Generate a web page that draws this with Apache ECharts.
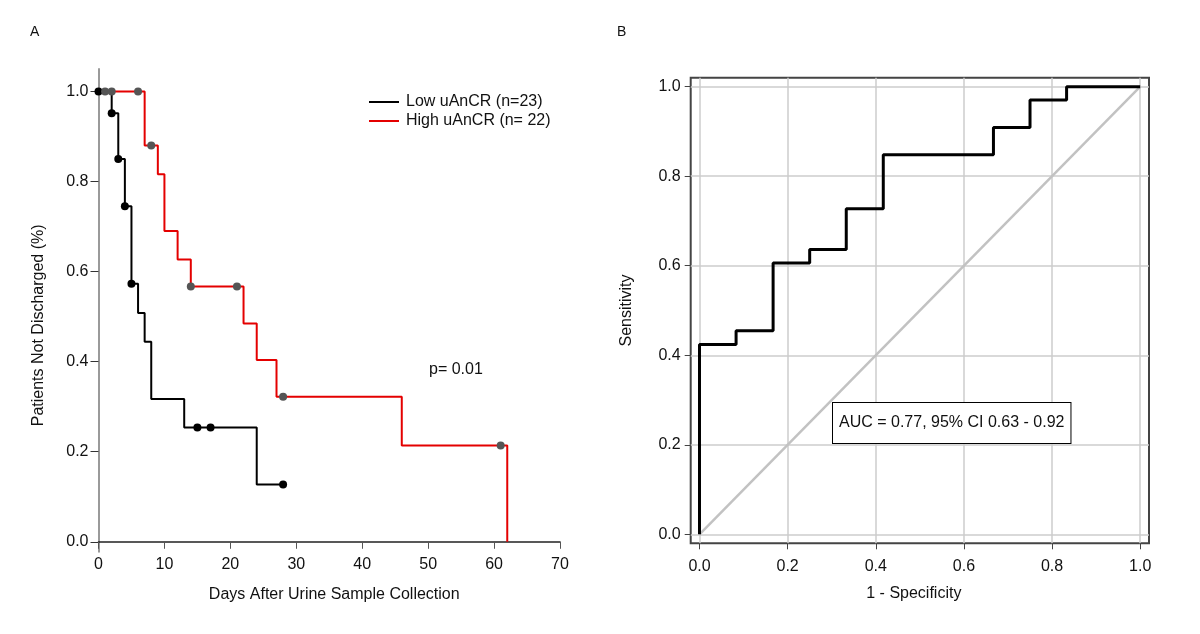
<!DOCTYPE html>
<html>
<head>
<meta charset="utf-8">
<script src="https://cdn.jsdelivr.net/npm/echarts@6/dist/echarts.min.js"></script>
<style>html,body{margin:0;padding:0;background:#fff}#main{width:1200px;height:634px}</style>
</head>
<body>
<div id="main"></div>
<script>
// A: Kaplan-Meier curves (day, fraction not discharged)
var lowDays = [0, 2, 3, 4, 5, 6, 7, 8, 13, 24, 28];
var lowSurv = [1, 0.952, 0.85, 0.745, 0.573, 0.508, 0.444, 0.317, 0.254, 0.127, 0.127];
var lowCensorDays = [0, 2, 3, 4, 5, 15, 17, 28];
var lowCensorSurv = [1, 0.952, 0.85, 0.745, 0.573, 0.254, 0.254, 0.127];

var highDays = [0, 7, 9, 10, 12, 14, 22, 24, 27, 46, 62];
var highSurv = [1, 0.88, 0.816, 0.69, 0.627, 0.567, 0.485, 0.404, 0.322, 0.214, 0];
var highCensorDays = [1, 2, 6, 8, 14, 21, 28, 61];
var highCensorSurv = [1, 1, 1, 0.88, 0.567, 0.567, 0.322, 0.214];

// B: ROC curve corners (1 - specificity, sensitivity)
var rocFpr = [0, 0, 0.083, 0.167, 0.25, 0.333, 0.417, 0.667, 0.75, 0.833, 1];
var rocTpr = [0, 0.424, 0.455, 0.606, 0.636, 0.727, 0.848, 0.909, 0.970, 1, 1];
var diagonal = [0, 1];

var unitTicks = [0, 0.2, 0.4, 0.6, 0.8, 1.0];

var names = ['Low uAnCR (n=23)', 'High uAnCR (n= 22)'];
var FONT = "'Liberation Sans', Arial, sans-serif";

function pairs(xs, ys) {
    return xs.map(function (x, i) { return [x, ys[i]]; });
}
function fmt1(v) { return Number(v).toFixed(1); }

var chart = echarts.init(document.getElementById('main'));
var option = {
    animation: false,
    textStyle: {fontFamily: FONT, color: '#111'},
    legend: {
        data: names,
        orient: 'vertical',
        left: 369,
        top: 94,
        padding: 0,
        icon: 'rect',
        itemWidth: 30,
        itemHeight: 2,
        itemGap: 3,
        textStyle: {fontSize: 16, color: '#111', fontFamily: FONT, padding: [0, 0, 0, 2]}
    },
    grid: [
        {left: 98.5, top: 69, width: 461.5, height: 482.7},
        {left: 690.7, top: 77.7, width: 458.3, height: 465.6, show: true, borderColor: '#444', borderWidth: 2}
    ],
    xAxis: [
        {
            gridIndex: 0, type: 'value', min: 0, max: 70, interval: 10,
            name: 'Days After Urine Sample Collection', nameLocation: 'middle', nameGap: 35,
            nameTextStyle: {fontSize: 16, color: '#111', padding: [0, 0, 0, 10]},
            axisLine: {onZero: true, lineStyle: {color: '#222', width: 1.5}},
            axisTick: {length: 7, lineStyle: {color: '#555'}},
            axisLabel: {fontSize: 16, color: '#111', margin: 5},
            splitLine: {show: false}
        },
        {
            gridIndex: 1, type: 'value', min: -0.02, max: 1.02,
            name: '1 - Specificity', nameLocation: 'middle', nameGap: 42,
            nameTextStyle: {fontSize: 16, color: '#111', padding: [0, 12, 0, 0]},
            axisLine: {show: false, onZero: false},
            axisTick: {customValues: unitTicks, length: 6, lineStyle: {color: '#444'}},
            axisLabel: {customValues: unitTicks, formatter: fmt1, fontSize: 16, color: '#111', margin: 15},
            splitLine: {show: true, lineStyle: {color: '#cccccc', width: 1.5}}
        }
    ],
    yAxis: [
        {
            gridIndex: 0, type: 'value', min: -0.022, max: 1.05,
            name: 'Patients Not Discharged (%)', nameLocation: 'middle', nameGap: 52,
            nameTextStyle: {fontSize: 16, color: '#111', padding: [0, 30, 0, 0]},
            axisLine: {show: true, onZero: false, lineStyle: {color: '#9a9a9a', width: 2}},
            axisTick: {customValues: unitTicks, length: 8, lineStyle: {color: '#333'}},
            axisLabel: {customValues: unitTicks, formatter: fmt1, fontSize: 16, color: '#111', margin: 10},
            splitLine: {show: false}
        },
        {
            gridIndex: 1, type: 'value', min: -0.02, max: 1.02,
            name: 'Sensitivity', nameLocation: 'middle', nameGap: 56,
            nameTextStyle: {fontSize: 16, color: '#111'},
            axisLine: {show: false, onZero: false},
            axisTick: {customValues: unitTicks, length: 6, lineStyle: {color: '#444'}},
            axisLabel: {customValues: unitTicks, formatter: fmt1, fontSize: 16, color: '#111', margin: 10},
            splitLine: {show: true, lineStyle: {color: '#cccccc', width: 1.5}}
        }
    ],
    series: [
        {
            name: names[0], type: 'line', step: 'end', xAxisIndex: 0, yAxisIndex: 0,
            symbol: 'none', color: '#000', lineStyle: {color: '#000', width: 2},
            data: pairs(lowDays, lowSurv)
        },
        {
            name: names[1], type: 'line', step: 'end', xAxisIndex: 0, yAxisIndex: 0,
            symbol: 'none', color: '#e40000', lineStyle: {color: '#e40000', width: 2},
            data: pairs(highDays, highSurv)
        },
        {
            name: 'low censored', type: 'scatter', xAxisIndex: 0, yAxisIndex: 0, z: 5,
            symbolSize: 8, itemStyle: {color: '#000', opacity: 1},
            data: pairs(lowCensorDays, lowCensorSurv)
        },
        {
            name: 'high censored', type: 'scatter', xAxisIndex: 0, yAxisIndex: 0, z: 5,
            symbolSize: 8, itemStyle: {color: '#555', opacity: 1},
            data: pairs(highCensorDays, highCensorSurv)
        },
        {
            name: 'reference', type: 'line', xAxisIndex: 1, yAxisIndex: 1,
            symbol: 'none', lineStyle: {color: '#c2c2c2', width: 2.5},
            data: pairs(diagonal, diagonal)
        },
        {
            name: 'ROC', type: 'line', step: 'end', xAxisIndex: 1, yAxisIndex: 1,
            symbol: 'none', lineStyle: {color: '#000', width: 3},
            data: pairs(rocFpr, rocTpr)
        }
    ],
    graphic: [
        {type: 'text', left: 30, top: 25, style: {text: 'A', font: '14px ' + FONT, fill: '#111'}},
        {type: 'text', left: 617, top: 25, style: {text: 'B', font: '14px ' + FONT, fill: '#111'}},
        {type: 'text', left: 429, top: 362, style: {text: 'p= 0.01', font: '16px ' + FONT, fill: '#111'}},
        {
            type: 'text', left: 832, top: 402, z: 10,
            style: {
                text: 'AUC = 0.77, 95% CI 0.63 - 0.92', font: '16px ' + FONT, fill: '#111',
                backgroundColor: '#fff', borderColor: '#000', borderWidth: 1, padding: [12, 6, 12, 6]
            }
        }
    ]
};
chart.setOption(option);
</script>
</body>
</html>
